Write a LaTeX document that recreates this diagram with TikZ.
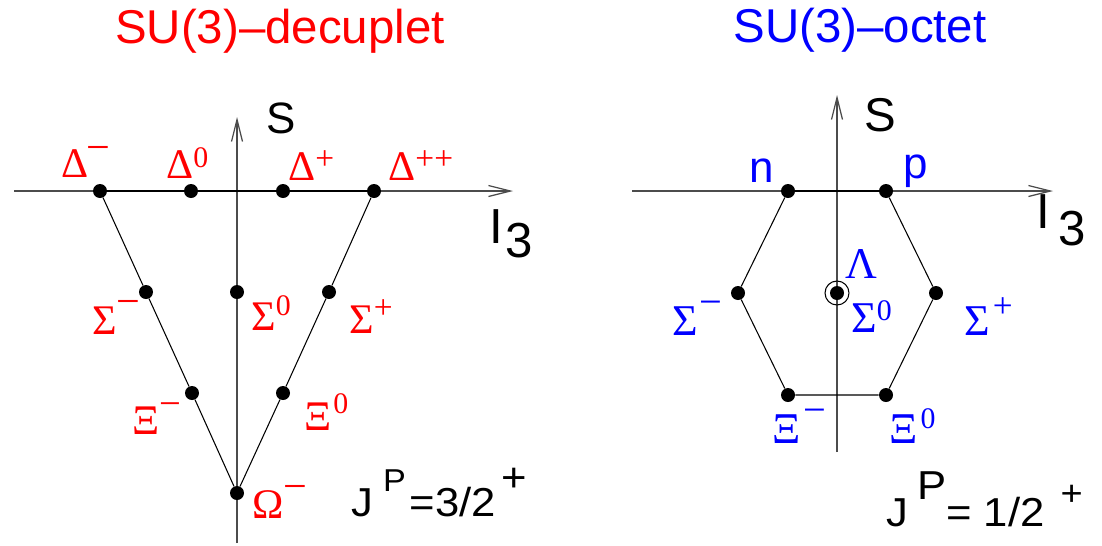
\documentclass[tikz,border=0pt]{standalone}
\usepackage{fontspec}
\setmainfont{Liberation Serif}
\setsansfont{Liberation Sans}
\newfontfamily\jpfont{Liberation Sans}[FakeStretch=1.08]
\usetikzlibrary{arrows.meta}
\newcommand{\ssup}[3]{\raisebox{#1}{\fontsize{#2}{#2}\selectfont #3}}
\begin{document}
\begin{tikzpicture}[x=0.02cm,y=-0.02cm,
  axisline/.style={draw=black!70, line width=0.7pt, -{Straight Barb[length=0.44cm,width=0.22cm,line width=0.7pt]}},
  edgeline/.style={draw=black, line width=0.6pt},
  rowline/.style={draw=black, line width=1.1pt},
  dot/.style={circle, fill=black, inner sep=0pt, minimum size=0.28cm},
  ring/.style={circle, draw=black, line width=0.6pt, inner sep=0pt, minimum size=0.48cm},
  dlab/.style={text=red, font=\fontsize{24}{26}\selectfont\rmfamily, inner sep=0pt, anchor=base west},
  olab/.style={text=blue, font=\fontsize{25}{27}\selectfont\rmfamily, inner sep=0pt, anchor=base west},
  sflab/.style={font=\fontsize{25}{28}\selectfont\sffamily, inner sep=0pt},
  jplab/.style={font=\fontsize{23}{26}\selectfont\jpfont, inner sep=0pt, anchor=base west},
  titlelab/.style={font=\fontsize{27}{30}\selectfont\sffamily, inner sep=0pt, anchor=base}
]
\useasboundingbox (0,0) rectangle (1102,545);

% ---------------- Decuplet ----------------
\node[titlelab, text=red] (dtitle) at (280,43) {SU(3)–decuplet};
\coordinate (dxl) at (14,191);
\coordinate (dxr) at (513,191);
\coordinate (dyb) at (237,543);
\coordinate (dyt) at (237,117);
\draw[axisline] (dxl) -- (dxr);
\draw[axisline] (dyb) -- (dyt);
\node[sflab, anchor=center] (dS) at (281,118) {S};
\node[sflab, font=\fontsize{28}{30}\selectfont\sffamily, anchor=base west] (dI) at (489,243) {I\kern0.04cm\raisebox{-0.28cm}{3}};

\node[dot] (dm) at (100,191) {};
\node[dot] (dz) at (191,191) {};
\node[dot] (dp) at (283,191) {};
\node[dot] (dpp) at (374,191) {};
\node[dot] (sm) at (146,292) {};
\node[dot] (sz) at (237,292) {};
\node[dot] (sp) at (329,292) {};
\node[dot] (xm) at (192,393) {};
\node[dot] (xz) at (283,393) {};
\node[dot] (om) at (237,493) {};

\draw[rowline] (dm) -- (dpp);
\draw[edgeline] (dm) -- (sm) -- (xm) -- (om);
\draw[edgeline] (dpp) -- (sp) -- (xz) -- (om);

\node[dlab] (ldm) at (61,177) {Δ\kern-0.03cm\ssup{0.31cm}{24}{−}};
\node[dlab] (ldz) at (166,178) {Δ\ssup{0.22cm}{17}{0}};
\node[dlab] (ldp) at (288,180) {Δ\ssup{0.22cm}{19}{+}};
\node[dlab] (ldpp) at (388,180) {Δ\ssup{0.22cm}{19}{++}};
\node[dlab] (lsm) at (92,334) {Σ\ssup{0.37cm}{24}{−}};
\node[dlab] (lsz) at (251,330) {Σ\ssup{0.30cm}{17}{0}};
\node[dlab] (lsp) at (349,333) {Σ\ssup{0.30cm}{19}{+}};
\node[dlab] (lxm) at (132,434) {Ξ\ssup{0.35cm}{22}{−}};
\node[dlab] (lxz) at (304,430) {Ξ\kern0.04cm\ssup{0.34cm}{17}{0}};
\node[dlab] (lom) at (252,518) {Ω\ssup{0.35cm}{24}{−}};

\node[jplab] (djp) at (351,516) {J\kern0.2cm\raisebox{0.5cm}{\fontsize{18}{19}\selectfont P}\kern0.08cm=3/2\kern0.1cm\raisebox{0.5cm}{+}};

% ---------------- Octet ----------------
\node[titlelab, text=blue] (otitle) at (860,42) {SU(3)–octet};
\coordinate (oxl) at (632,191);
\coordinate (oxr) at (1053,191);
\coordinate (oyb) at (837,452);
\coordinate (oyt) at (837,95);
\draw[axisline] (oxl) -- (oxr);
\draw[axisline] (oyb) -- (oyt);
\node[sflab, font=\fontsize{27}{30}\selectfont\sffamily, anchor=center] (oS) at (880,115) {S};
\node[sflab, font=\fontsize{28}{30}\selectfont\sffamily, anchor=base west] (oI) at (1036,228) {I\kern0.16cm\raisebox{-0.34cm}{3}};

\node[dot] (on) at (788,191) {};
\node[dot] (op) at (886,191) {};
\node[dot] (osm) at (738,293) {};
\node[dot] (olam) at (837,293) {};
\node[ring] (oring) at (olam) {};
\node[dot] (osp) at (936,293) {};
\node[dot] (oxm) at (788,395) {};
\node[dot] (oxz) at (886,395) {};

\draw[rowline] (on) -- (op);
\draw[edgeline] (op) -- (osp) -- (oxz) -- (oxm) -- (osm) -- (on);

\node[sflab, text=blue, anchor=base west] (ln) at (749,182) {n};
\node[sflab, text=blue, anchor=base west] (lp) at (903,178) {p};
\node[olab] (llam) at (845,278) {Λ};
\node[olab] (losz) at (851,332) {Σ\ssup{0.24cm}{17}{0}};
\node[olab] (losm) at (672,335) {Σ\kern0.04cm\ssup{0.39cm}{23}{−}};
\node[olab] (losp) at (964,335) {Σ\kern0.06cm\ssup{0.36cm}{20}{+}};
\node[olab] (loxm) at (772,443) {Ξ\kern0.06cm\ssup{0.39cm}{23}{−}};
\node[olab] (loxz) at (889,443) {Ξ\kern0.06cm\ssup{0.30cm}{17}{0}};

\node[jplab] (ojp) at (886,526) {J\kern0.18cm\raisebox{0.54cm}{P}= 1/2\kern0.32cm\raisebox{0.42cm}{\fontsize{20}{21}\selectfont +}};
\end{tikzpicture}
\end{document}
